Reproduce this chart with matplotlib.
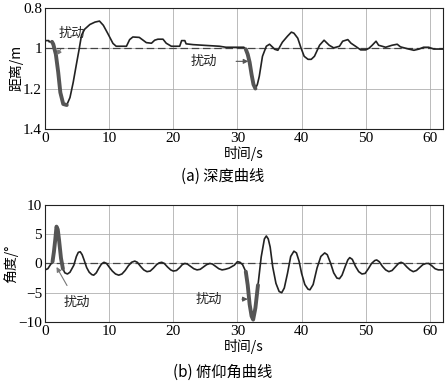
import matplotlib
matplotlib.use('Agg')
import matplotlib.pyplot as plt

plt.rcParams['font.family'] = ['Liberation Serif', 'Noto Sans CJK SC']
plt.rcParams['axes.unicode_minus'] = True

## depth curve (m)
depth_t = [0, 0.6, 0.65, 1.1, 1.3, 1.7, 2.07, 2.4, 2.85, 3.4, 3.9, 4.4, 4.9, 5.3,
           5.7, 6.2, 7.0, 7.8, 8.5, 9.1, 9.8, 10.6, 11.1, 12.7, 13.2, 13.7, 14.7,
           15.3, 15.8, 16.6, 17.1, 17.6, 18.4, 18.9, 19.7, 21.0, 21.3, 21.8, 22.0,
           23.1, 25.1, 27.2, 28.2, 31.0, 31.3, 31.6, 31.9, 32.2, 32.5, 32.8, 33.1,
           33.4, 33.9, 34.5, 35.0, 35.5, 35.8, 36.3, 37.0, 37.8, 38.4, 38.8, 39.4,
           39.9, 40.4, 41.0, 41.5, 42.0, 42.8, 43.5, 44.3, 45.0, 45.9, 46.4, 47.2,
           47.7, 48.4, 49.2, 50.0, 50.5, 51.0, 51.6, 52.0, 53.1, 54.1, 54.9, 55.4,
           56.7, 57.5, 58.3, 59.0, 59.8, 60.6, 62.0]
depth_v = [0.962, 0.962, 0.968, 0.968, 0.98, 1.03, 1.12, 1.22, 1.277, 1.282, 1.245,
           1.17, 1.08, 1.01, 0.935, 0.905, 0.882, 0.87, 0.865, 0.886, 0.927, 0.976,
           0.99, 0.99, 0.957, 0.944, 0.946, 0.96, 0.972, 0.975, 0.96, 0.955, 0.955,
           0.975, 0.99, 0.99, 0.962, 0.962, 0.978, 0.982, 0.986, 0.99, 0.995, 0.995,
           1.005, 1.03, 1.07, 1.13, 1.18, 1.2, 1.18, 1.14, 1.04, 0.99, 0.98, 0.995,
           1.005, 1.01, 0.97, 0.94, 0.92, 0.925, 0.95, 0.998, 1.04, 1.055, 1.055,
           1.04, 0.985, 0.96, 0.985, 0.998, 0.99, 0.965, 0.957, 0.975, 0.99, 1.008,
           1.008, 1.0, 0.985, 0.965, 0.985, 0.995, 0.985, 0.98, 0.993, 1.004, 1.01,
           1.004, 0.995, 0.995, 1.004, 1.004]

## pitch angle curve (deg)
pitch_t = [0.0, 0.45, 0.86, 1.18, 1.4, 1.6, 1.8, 2.0, 2.2, 2.5, 2.8, 3.1, 3.5, 3.9,
           4.2, 4.5, 4.9, 5.2, 5.5, 5.8, 6.1, 6.5, 6.9, 7.3, 7.6, 8.0, 8.4, 8.8,
           9.2, 9.6, 10.0, 10.5, 11.0, 11.5, 12.0, 12.5, 13.0, 13.5, 14.0, 14.4,
           14.9, 15.4, 15.9, 16.4, 16.9, 17.4, 17.8, 18.2, 18.6, 19.1, 19.6, 20.0,
           20.5, 21.0, 21.4, 21.8, 22.2, 22.7, 23.2, 23.7, 24.2, 24.7, 25.2, 25.7,
           26.1, 26.6, 27.1, 27.6, 28.1, 28.7, 29.5, 30.0, 30.4, 30.8, 31.3, 31.6,
           31.9, 32.2, 32.45, 32.8, 33.2, 33.7, 34.2, 34.5, 34.8, 35.1, 35.5, 36.0,
           36.5, 36.9, 37.3, 37.8, 38.3, 38.8, 39.2, 39.6, 40.0, 40.5, 41.0, 41.3,
           41.8, 42.4, 43.0, 43.6, 44.0, 44.5, 45.0, 45.5, 45.9, 46.3, 46.8, 47.2,
           47.5, 47.9, 48.4, 48.9, 49.4, 49.9, 50.4, 50.9, 51.4, 51.7, 52.1, 52.6,
           53.1, 53.6, 54.1, 54.6, 55.1, 55.5, 55.9, 56.4, 56.9, 57.4, 57.9, 58.4,
           58.9, 59.4, 59.8, 60.3, 60.8, 61.3, 62.0]
pitch_v = [-1.1, -0.9, -0.2, 0.3, 2.0, 4.0, 6.3, 5.8, 4.0, 0.9, -0.9, -1.6, -1.8,
           -1.5, -0.9, -0.3, 1.2, 1.9, 2.0, 1.5, 0.6, -0.7, -1.5, -1.9, -2.0, -1.6,
           -0.8, -0.1, 0.2, 0.0, -0.6, -1.3, -1.8, -2.0, -1.8, -1.2, -0.4, 0.2, 0.4,
           0.2, -0.5, -1.1, -1.4, -1.3, -0.8, -0.2, 0.1, 0.2, 0.0, -0.6, -1.1, -1.3,
           -1.2, -0.7, -0.2, 0.0, -0.1, -0.5, -0.9, -1.1, -1.0, -0.6, -0.2, 0.0,
           -0.1, -0.5, -0.9, -1.1, -1.0, -0.8, -0.3, 0.3, 0.2, -0.2, -1.4, -3.7,
           -7.0, -9.0, -9.6, -7.6, -3.7, 1.1, 4.2, 4.7, 4.2, 2.8, -0.6, -3.4, -4.8,
           -5.0, -4.2, -1.7, 1.2, 2.1, 1.8, 0.4, -1.7, -3.6, -4.4, -4.5, -3.6, -0.8,
           1.2, 1.8, 1.5, 0.1, -1.6, -2.5, -2.6, -2.0, -0.5, 0.6, 1.0, 0.7, -0.5,
           -1.4, -1.8, -1.7, -0.9, 0.0, 0.5, 0.6, 0.3, -0.5, -1.1, -1.4, -1.2, -0.6,
           0.0, 0.2, 0.0, -0.6, -1.1, -1.4, -1.2, -0.7, -0.2, 0.0, 0.0, -0.4, -0.9,
           -1.1, -1.1]

# disturbed stretches drawn thicker
depth_hl = [(1.1, 3.4), (31.3, 32.8)]
pitch_hl = [(1.18, 2.8), (31.3, 33.2)]

cjk = ['Noto Sans CJK SC', 'DejaVu Sans']


def segment(t, v, a, b):
    return ([x for x in t if a <= x <= b], [y for x, y in zip(t, v) if a <= x <= b])


def style(ax):
    ax.grid(True, color='#b0b0b0', linewidth=0.6)
    ax.tick_params(direction='in', length=0, labelsize=11, pad=2)
    ax.set_xlim(0, 62)
    ax.set_xticks([0, 10, 20, 30, 40, 50, 60])
    for s in ax.spines.values():
        s.set_color('#222222')
        s.set_linewidth(0.8)


fig = plt.figure(figsize=(4.45, 3.81), dpi=100)

ax1 = fig.add_axes([0.101, 0.662, 0.894, 0.317])
style(ax1)
ax1.set_ylim(1.4, 0.8)
ax1.set_yticks([0.8, 1.0, 1.2, 1.4])
ax1.set_yticklabels(['0.8', '1', '1.2', '1.4'])
ax1.axhline(1.0, color='#444444', linestyle=(0, (6, 3)), linewidth=0.9)
ax1.plot(depth_t, depth_v, color='#222222', linewidth=1.2)
for a, b in depth_hl:
    xs, ys = segment(depth_t, depth_v, a, b)
    ax1.plot(xs, ys, color='#555555', linewidth=2.8, solid_capstyle='round')
ax1.set_ylabel('距离/m', family=cjk, fontsize=10, labelpad=0)
ax1.set_xlabel('时间/s', family=cjk, fontsize=10, labelpad=1)
ax1.annotate('扰动', xy=(1.8, 1.035), xytext=(4.2, 0.925), family=cjk, fontsize=9.5,
             ha='center', va='center', color='#222222',
             arrowprops=dict(arrowstyle='-|>', color='#777777', lw=0.8,
                             shrinkA=6, shrinkB=0, mutation_scale=7))
ax1.annotate('扰动', xy=(31.7, 1.065), xytext=(24.7, 1.065), family=cjk, fontsize=9.5,
             ha='center', va='center', color='#222222',
             arrowprops=dict(arrowstyle='-|>', color='#555555', lw=0.8,
                             shrinkA=12, shrinkB=0, mutation_scale=7))
fig.text(0.5, 0.537, '(a) 深度曲线', family=cjk, fontsize=11, ha='center', va='center')

ax2 = fig.add_axes([0.101, 0.155, 0.894, 0.307])
style(ax2)
ax2.set_ylim(-10, 10)
ax2.set_yticks([-10, -5, 0, 5, 10])
ax2.axhline(0.0, color='#444444', linestyle=(0, (6, 3)), linewidth=0.9)
ax2.plot(pitch_t, pitch_v, color='#222222', linewidth=1.2)
for a, b in pitch_hl:
    xs, ys = segment(pitch_t, pitch_v, a, b)
    ax2.plot(xs, ys, color='#555555', linewidth=2.8, solid_capstyle='round')
ax2.set_ylabel('角度/°', family=cjk, fontsize=10, labelpad=0)
ax2.set_xlabel('时间/s', family=cjk, fontsize=10, labelpad=1)
ax2.annotate('扰动', xy=(1.8, -0.6), xytext=(4.9, -6.6), family=cjk, fontsize=9.5,
             ha='center', va='center', color='#222222',
             arrowprops=dict(arrowstyle='-|>', color='#777777', lw=0.8,
                             shrinkA=6, shrinkB=0, mutation_scale=7))
ax2.annotate('扰动', xy=(31.6, -6.1), xytext=(25.6, -6.1), family=cjk, fontsize=9.5,
             ha='center', va='center', color='#222222',
             arrowprops=dict(arrowstyle='-|>', color='#555555', lw=0.8,
                             shrinkA=12, shrinkB=0, mutation_scale=7))
fig.text(0.5, 0.024, '(b) 俯仰角曲线', family=cjk, fontsize=11, ha='center', va='center')

fig.savefig('out.png', dpi=100)
